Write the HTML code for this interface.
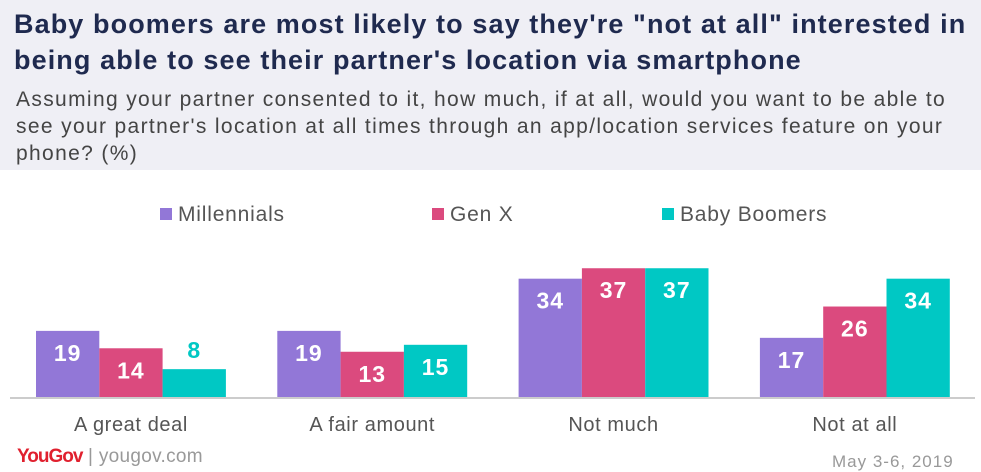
<!DOCTYPE html>
<html><head><meta charset="utf-8"><style>
body{margin:0;width:981px;height:472px;background:#fff;font-family:"Liberation Sans",sans-serif;position:relative;overflow:hidden}
.hdr{position:absolute;left:0;top:0;width:981px;height:170px;background:#efeff5}
.t{position:absolute;left:14px;top:6px;font-size:27px;font-weight:bold;color:#1f2a4f;line-height:36px;width:980px;letter-spacing:1.1px;white-space:nowrap}
.s{position:absolute;left:16px;top:86px;font-size:21px;color:#444;line-height:27px;width:980px;letter-spacing:1.35px;white-space:nowrap}
.leg{position:absolute;top:203px;font-size:21px;color:#555;letter-spacing:0.8px}
.leg i{display:inline-block;width:12px;height:12px;margin-right:6px;vertical-align:1px}
</style></head><body>
<div class="hdr"></div>
<div class="t">Baby boomers are most likely to say they're "not at all" interested in<br>being able to see their partner's location via smartphone</div>
<div class="s">Assuming your partner consented to it, how much, if at all, would you want to be able to<br>see your partner's location at all times through an app/location services feature on your<br>phone? (%)</div>
<div class="leg" style="left:160px"><i style="background:#9277d7"></i>Millennials</div>
<div class="leg" style="left:432px"><i style="background:#db4a7e"></i>Gen X</div>
<div class="leg" style="left:662px"><i style="background:#00c8c4"></i>Baby Boomers</div>
<svg id="c" width="981" height="472" style="position:absolute;left:0;top:0"></svg>
<div style="position:absolute;left:17px;top:446px;font-size:19px;font-weight:bold;color:#e0202e;letter-spacing:-1px">YouGov<span style="color:#999;font-weight:normal;letter-spacing:0.3px"> | yougov.com</span></div>
<div style="position:absolute;left:832px;top:452px;font-size:17px;color:#999;letter-spacing:1px">May 3-6, 2019</div>
<script>
const categories=["A great deal","A fair amount","Not much","Not at all"];
const millennials=[19,19,34,17];
const genX=[14,13,37,26];
const boomers=[8,15,37,34];
const series=[millennials,genX,boomers];
const colors=["#9277d7","#db4a7e","#00c8c4"];
const svg=document.getElementById('c');const NS="http://www.w3.org/2000/svg";
const base=397,scale=3.48,bw=63.3;
const x=(g,s)=>36+g*241.3+s*bw;
const y=v=>base-v*scale;
function mk(t,a){const e=document.createElementNS(NS,t);for(const k in a)e.setAttribute(k,a[k]);svg.appendChild(e);return e;}
const ln=mk('line',{x1:10,x2:975,y1:base+1,y2:base+1,stroke:'#ccc','stroke-width':2});


categories.forEach((c,g)=>{
 series.forEach((d,s)=>{
  const v=d[g];
  const r=mk('rect',{x:x(g,s),y:y(v),width:bw,height:v*scale,fill:colors[s]});
  
  
  const inside=v*scale>40;
  const t=mk('text',{x:x(g,s)+bw/2,y:inside?y(v)+30:y(v)-11,'text-anchor':'middle','font-size':23,'font-weight':'bold',fill:inside?'#fff':colors[s],'font-family':'Liberation Sans,sans-serif','letter-spacing':1});
  t.textContent=v;
  
  
 });
 const l=mk('text',{x:x(g,1)+bw/2,y:431,'text-anchor':'middle','font-size':20,fill:'#555','font-family':'Liberation Sans,sans-serif','letter-spacing':0.6});
 l.textContent=c;
 
 
});
</script>
</body></html>
